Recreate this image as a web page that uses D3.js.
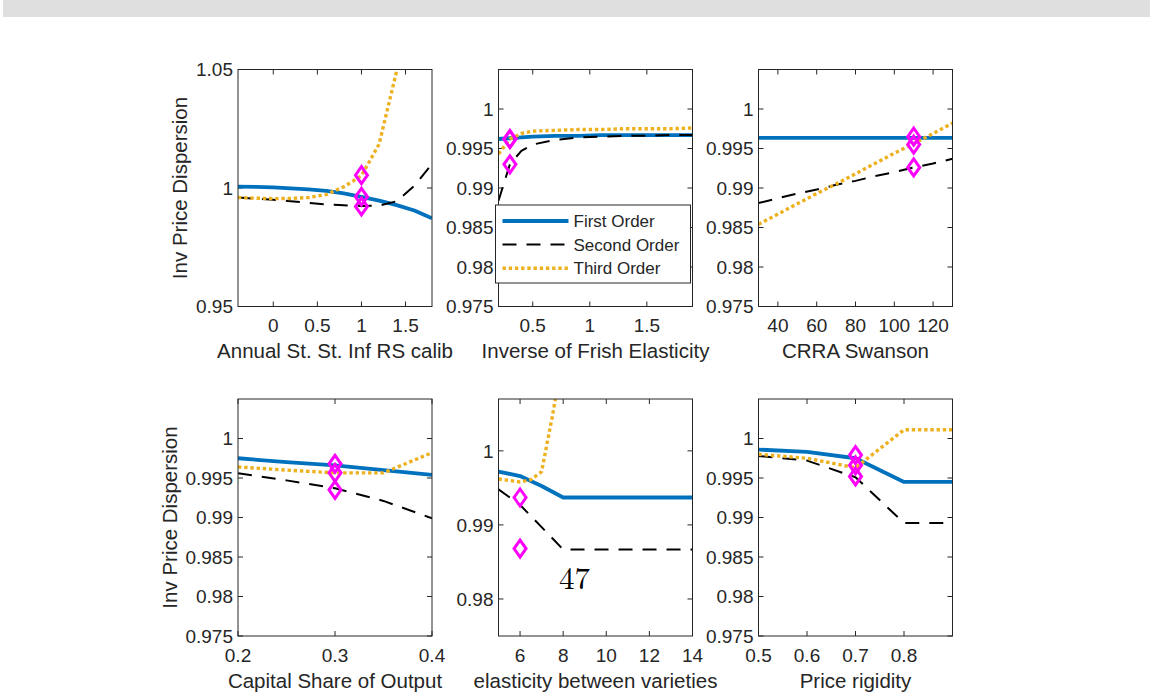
<!DOCTYPE html>
<html>
<head>
<meta charset="utf-8">
<script src="https://cdn.jsdelivr.net/npm/d3@7"></script>
<style>
  html, body { margin: 0; padding: 0; background: #ffffff; }
  svg { display: block; }
  text { font-family: "Liberation Sans", Arial, Helvetica, sans-serif; fill: #262626; }
</style>
</head>
<body>
<svg id="fig" width="1152" height="698"></svg>
<script>
// ---- Series names ----
const seriesNames = ["First Order", "Second Order", "Third Order"];

// ---- Panel 1: annual steady-state inflation ----
const p1X      = [-0.4, -0.2, 0, 0.2, 0.4, 0.6, 0.8, 1.0, 1.2, 1.4, 1.6, 1.8];
const p1First  = [1.0006, 1.0005, 1.0003, 0.99985, 0.9994, 0.9988, 0.9977, 0.9963, 0.9947, 0.9928, 0.9905, 0.9872];
const p1Second = [0.9960, 0.9955, 0.9950, 0.9944, 0.9937, 0.9931, 0.9927, 0.9924, 0.9926, 0.9944, 1.0010, 1.0101];
const p1Third  = [0.9960, 0.9957, 0.9955, 0.9956, 0.9960, 0.9972, 1.0005, 1.0052, 1.0185, 1.0495, 1.1100, 1.2000];
const p1MarkX  = 1;
const p1Marks  = [1.0054, 0.9963, 0.9922];

// ---- Panel 2: inverse Frisch elasticity ----
const p2X      = [0.2, 0.3, 0.4, 0.5, 0.7, 0.9, 1.1, 1.3, 1.5, 1.7, 1.9];
const p2First  = [0.9962, 0.9963, 0.9964, 0.9965, 0.9966, 0.9966, 0.9967, 0.9967, 0.9967, 0.9967, 0.9967];
const p2Second = [0.9884, 0.9930, 0.9947, 0.9955, 0.9961, 0.9964, 0.9965, 0.9966, 0.9966, 0.9967, 0.9967];
const p2Third  = [0.9943, 0.9962, 0.9969, 0.9972, 0.9973, 0.9974, 0.9974, 0.9975, 0.9975, 0.9975, 0.9976];
const p2MarkX  = 0.3;
const p2Marks  = [0.9962, 0.9962, 0.9930];

// ---- Panel 3: CRRA (Swanson) ----
const p3X      = [30, 40, 50, 60, 70, 80, 90, 100, 110, 120, 130];
const p3First  = [0.99635, 0.99635, 0.99635, 0.99635, 0.99635, 0.99635, 0.99635, 0.99635, 0.99635, 0.99635, 0.99635];
const p3Second = [0.9881, 0.9887, 0.9893, 0.9898, 0.9904, 0.9909, 0.9915, 0.9920, 0.9926, 0.9931, 0.9937];
const p3Third  = [0.9854, 0.9867, 0.9880, 0.9893, 0.9905, 0.9918, 0.9931, 0.9944, 0.9956, 0.9969, 0.9982];
const p3MarkX  = 110;
const p3Marks  = [0.9965, 0.9955, 0.9926];

// ---- Panel 4: capital share of output ----
const p4X      = [0.2, 0.25, 0.3, 0.35, 0.4];
const p4First  = [0.9975, 0.9970, 0.9966, 0.9960, 0.9954];
const p4Second = [0.9956, 0.9947, 0.9937, 0.9921, 0.9899];
const p4Third  = [0.9964, 0.9960, 0.99565, 0.99565, 0.9982];
const p4MarkX  = 0.3;
const p4Marks  = [0.9968, 0.99565, 0.9935];

// ---- Panel 5: elasticity between varieties ----
const p5X      = [5, 6, 7, 8, 9, 10, 11, 12, 13, 14];
const p5First  = [0.9972, 0.9966, 0.99525, 0.9937, 0.9937, 0.9937, 0.9937, 0.9937, 0.9937, 0.9937];
const p5Second = [0.9948, 0.9927, 0.9897, 0.98667, 0.98667, 0.98667, 0.98667, 0.98667, 0.98667, 0.98667];
const p5ThirdX = [5, 5.5, 6, 6.5, 7, 7.5, 8, 9, 10, 11, 12, 13, 14];
const p5Third  = [0.9962, 0.9960, 0.9958, 0.9961, 0.9972, 1.0047, 1.0130, 1.0130, 1.0130, 1.0130, 1.0130, 1.0130, 1.0130];
const p5MarkX  = 6;
const p5Marks  = [0.9937, 0.9868];
const p5Note   = "47";

// ---- Panel 6: price rigidity ----
const p6X      = [0.5, 0.6, 0.7, 0.8, 0.9];
const p6First  = [0.9986, 0.9983, 0.9975, 0.9945, 0.9945];
const p6Second = [0.9978, 0.9972, 0.9951, 0.9893, 0.9893];
const p6Third  = [0.9980, 0.9975, 0.9963, 1.0011, 1.0011];
const p6MarkX  = 0.7;
const p6Marks  = [0.9979, 0.9966, 0.9952];

// ---- Axis limits, ticks and labels ----
const xLabels = ["Annual St. St. Inf RS calib", "Inverse of Frish Elasticity", "CRRA Swanson",
                 "Capital Share of Output", "elasticity between varieties", "Price rigidity"];
const yLabel = "Inv Price Dispersion";
const xDomains = [[-0.4, 1.8], [0.2, 1.9], [30, 130], [0.2, 0.4], [5, 14], [0.5, 0.9]];
const yDomains = [[0.95, 1.05], [0.975, 1.005], [0.975, 1.005], [0.975, 1.005], [0.975, 1.007], [0.975, 1.005]];
const xTicks = [[0, 0.5, 1, 1.5], [0.5, 1, 1.5], [40, 60, 80, 100, 120], [0.2, 0.3, 0.4], [6, 8, 10, 12, 14], [0.5, 0.6, 0.7, 0.8]];
const yTicks = [[0.95, 1, 1.05], [0.975, 0.98, 0.985, 0.99, 0.995, 1], [0.975, 0.98, 0.985, 0.99, 0.995, 1],
                [0.975, 0.98, 0.985, 0.99, 0.995, 1], [0.98, 0.99, 1], [0.975, 0.98, 0.985, 0.99, 0.995, 1]];

// ---- Styles ----
const colFirst = "#0072BD", colSecond = "#000000", colThird = "#EDB120", colMark = "#FF00FF";
const axisCol = "#262626";
const styles = [
  { stroke: colFirst,  width: 3.8, dash: null },
  { stroke: colSecond, width: 2.0, dash: "14,10" },
  { stroke: colThird,  width: 3.4, dash: "3.4,2.8" }
];

const panels = [
  { series: [[p1X, p1First], [p1X, p1Second], [p1X, p1Third]], markX: p1MarkX, marks: p1Marks },
  { series: [[p2X, p2First], [p2X, p2Second], [p2X, p2Third]], markX: p2MarkX, marks: p2Marks },
  { series: [[p3X, p3First], [p3X, p3Second], [p3X, p3Third]], markX: p3MarkX, marks: p3Marks },
  { series: [[p4X, p4First], [p4X, p4Second], [p4X, p4Third]], markX: p4MarkX, marks: p4Marks },
  { series: [[p5X, p5First], [p5X, p5Second], [p5ThirdX, p5Third]], markX: p5MarkX, marks: p5Marks },
  { series: [[p6X, p6First], [p6X, p6Second], [p6X, p6Third]], markX: p6MarkX, marks: p6Marks }
];

// ---- Layout ----
const colLeft = [238, 498.5, 758.5];
const rowTop = [69.5, 399];
const axW = 194, axH = 237;
const yLabelX = [186.5, 176.5];

const svg = d3.select("#fig");
svg.append("rect").attr("x", 0).attr("y", 0).attr("width", 1152).attr("height", 698).attr("fill", "#ffffff");
svg.append("rect").attr("x", 3).attr("y", 0).attr("width", 1147).attr("height", 17).attr("fill", "#dfdfdf");

const fmt = v => String(+v.toFixed(4));

panels.forEach((p, i) => {
  const r = Math.floor(i / 3), c = i % 3;
  const left = colLeft[c], top = rowTop[r];
  const x = d3.scaleLinear().domain(xDomains[i]).range([0, axW]);
  const y = d3.scaleLinear().domain(yDomains[i]).range([axH, 0]);
  const g = svg.append("g").attr("transform", `translate(${left},${top})`);

  const clipId = "clip" + i;
  g.append("clipPath").attr("id", clipId)
    .append("rect").attr("x", 0).attr("y", 0).attr("width", axW).attr("height", axH);

  // ticks (inward, mirrored on top and right)
  const tl = 5;
  xTicks[i].forEach(t => {
    const tx = x(t);
    g.append("line").attr("x1", tx).attr("x2", tx).attr("y1", axH).attr("y2", axH - tl).attr("stroke", axisCol);
    g.append("line").attr("x1", tx).attr("x2", tx).attr("y1", 0).attr("y2", tl).attr("stroke", axisCol);
    g.append("text").attr("x", tx).attr("y", axH + 25.5).attr("text-anchor", "middle")
      .attr("font-size", 19).text(fmt(t));
  });
  yTicks[i].forEach(t => {
    const ty = y(t);
    g.append("line").attr("x1", 0).attr("x2", tl).attr("y1", ty).attr("y2", ty).attr("stroke", axisCol);
    g.append("line").attr("x1", axW).attr("x2", axW - tl).attr("y1", ty).attr("y2", ty).attr("stroke", axisCol);
    g.append("text").attr("x", -5).attr("y", ty).attr("dy", "0.36em").attr("text-anchor", "end")
      .attr("font-size", 19).text(fmt(t));
  });

  // series lines
  const plot = g.append("g").attr("clip-path", `url(#${clipId})`);
  p.series.forEach((s, k) => {
    const pts = s[0].map((xv, j) => [xv, s[1][j]]);
    const line = d3.line().x(d => x(d[0])).y(d => y(d[1]));
    const st = styles[k];
    plot.append("path").attr("d", line(pts)).attr("fill", "none")
      .attr("stroke", st.stroke).attr("stroke-width", st.width)
      .attr("stroke-dasharray", st.dash).attr("stroke-linejoin", "round");
  });

  // steady-state markers (open diamonds)
  const hw = 6, hh = 8.5;
  p.marks.forEach(v => {
    const cx = x(p.markX), cy = y(v);
    plot.append("path")
      .attr("d", `M${cx},${cy - hh}L${cx + hw},${cy}L${cx},${cy + hh}L${cx - hw},${cy}Z`)
      .attr("fill", "none").attr("stroke", colMark).attr("stroke-width", 3);
  });

  // box
  g.append("rect").attr("x", 0).attr("y", 0).attr("width", axW).attr("height", axH)
    .attr("fill", "none").attr("stroke", axisCol).attr("stroke-width", 1);

  // labels
  g.append("text").attr("x", axW / 2).attr("y", axH + 51.5).attr("text-anchor", "middle")
    .attr("font-size", 20.5).text(xLabels[i]);
  if (c === 0) {
    svg.append("text")
      .attr("transform", `translate(${yLabelX[r]},${top + axH / 2}) rotate(-90)`)
      .attr("text-anchor", "middle").attr("font-size", 20.5).text(yLabel);
  }

  // annotation in panel 5
  if (i === 4) {
    svg.append("text").attr("x", 559).attr("y", 588.5)
      .style("font-family", "'Latin Modern Roman','Liberation Serif','DejaVu Serif',serif")
      .style("fill", "#000").attr("font-size", 31).text(p5Note);
  }

  // legend in panel 2
  if (i === 1) {
    const lg = svg.append("g");
    lg.append("rect").attr("x", 495.5).attr("y", 205).attr("width", 195).attr("height", 78)
      .attr("fill", "#ffffff").attr("stroke", axisCol).attr("stroke-width", 1);
    const rowsY = [221, 244.5, 268.3];
    seriesNames.forEach((name, k) => {
      const st = styles[k];
      lg.append("line").attr("x1", 502.5).attr("x2", 568.5).attr("y1", rowsY[k]).attr("y2", rowsY[k])
        .attr("stroke", st.stroke).attr("stroke-width", st.width).attr("stroke-dasharray", st.dash);
      lg.append("text").attr("x", 573.5).attr("y", rowsY[k]).attr("dy", "0.36em")
        .attr("font-size", 17).text(name);
    });
  }
});
</script>
</body>
</html>
